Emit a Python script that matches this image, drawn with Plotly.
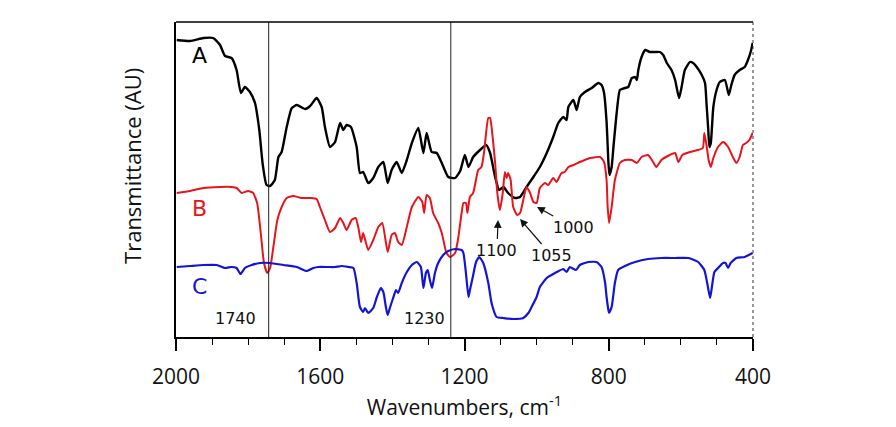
import plotly.graph_objects as go

# ---- data (wavenumber in cm-1, transmittance in arbitrary units) ----
a_wn = [1998,1961,1924,1897,1878,1864,1846,1832,1820,1809,1795,1781,1769,1760,1749,1739,1726,1716,1707,1693,
        1679,1665,1642,1628,1610,1596,1587,1573,1559,1545,1536,1527,1515,1499,1490,1481,1467,1453,1439,1425,
        1413,1402,1388,1374,1360,1346,1328,1314,1305,1291,1277,1263,1245,1226,1212,1199,1189,1176,1157,1140,
        1129,1115,1104,1092,1079,1060,1046,1028,1009,991,972,954,940,926,917,912,898,889,880,866,847,829,820,
        813,806,801,798,792,787,778,769,755,746,736,727,722,718,709,699,686,672,658,649,639,626,616,605,598,
        589,575,566,556,542,533,529,524,521,517,510,501,492,478,467,460,451,437,423,414,405,401]
a_val = [297,296,299,299,292,281,279,267,244,250,245,234,207,174,152,151,157,180,185,210,
         229,232,228,231,239,230,210,190,195,214,207,212,210,190,164,165,154,159,170,175,
         154,167,175,164,177,194,209,184,204,185,184,174,160,159,166,182,170,180,187,192,
         184,160,147,150,144,139,140,150,160,170,184,200,214,220,217,230,237,227,240,245,249,254,252,
         244,215,175,162,170,190,224,247,249,250,259,260,257,267,280,287,285,285,285,282,274,267,257,239,250,
         267,275,274,270,262,254,234,207,190,194,230,247,255,257,242,252,262,267,270,277,287,294]

b_wn = [1998,1961,1924,1878,1846,1832,1818,1800,1786,1775,1765,1756,1747,1739,1730,1719,1707,1693,1675,1652,
        1628,1610,1601,1587,1573,1559,1545,1536,1527,1513,1502,1494,1487,1481,1467,1453,1439,1428,1413,1402,
        1393,1384,1374,1360,1346,1328,1317,1312,1305,1296,1287,1273,1263,1250,1240,1226,1217,1208,1203,1196,
        1192,1185,1176,1162,1153,1146,1134,1129,1122,1115,1109,1102,1094,1088,1083,1079,1072,1065,1054,1046,
        1037,1028,1018,1009,1000,991,977,968,954,945,931,922,912,898,880,852,824,813,806,803,799,792,783,769,
        755,736,722,709,691,677,668,654,631,616,607,596,575,552,539,535,529,523,517,510,497,483,469,456,446,
        437,428,419,410,401]
b_val = [144,146,149,150,150,149,144,146,144,134,104,74,64,69,90,117,130,139,141,139,
         139,138,130,117,105,109,119,114,107,117,119,109,95,104,87,97,110,114,85,102,
         104,95,92,110,130,140,135,124,142,139,124,114,104,84,80,84,100,124,134,134,
         124,140,144,167,170,184,219,219,200,174,144,127,144,165,159,164,157,130,122,124,
         137,150,144,135,134,149,154,152,159,155,164,165,170,172,175,179,180,175,157,130,114,130,157,174,
         177,177,174,180,182,175,170,177,182,184,175,182,185,187,189,204,192,177,170,179,190,195,190,180,174,
         180,192,194,197,204]

c_wn = [1998,1961,1924,1887,1864,1846,1832,1821,1809,1790,1767,1739,1702,1665,1638,1619,1605,1578,1559,1541,
        1522,1508,1499,1490,1481,1476,1467,1453,1443,1432,1425,1418,1413,1407,1397,1390,1384,1374,1360,1346,
        1332,1321,1314,1307,1302,1296,1290,1282,1273,1259,1245,1226,1208,1203,1196,1189,1185,1177,1168,1159,
        1148,1134,1125,1111,1092,1065,1037,1023,1014,1000,991,972,949,926,917,908,891,880,857,834,820,810,806,
        801,799,792,783,774,755,727,691,654,616,579,552,535,525,519,514,507,497,483,476,469,462,446,423,401]
c_val = [70,71,72,72,69,70,69,63,69,72,74,74,72,70,66,69,70,70,70,71,
         70,69,54,30,25,29,24,29,40,49,45,30,22,29,40,47,44,54,65,72,
         75,70,49,64,67,57,49,64,74,82,86,88,87,84,64,40,47,60,75,80,
         74,54,34,20,19,18,19,24,30,40,50,59,64,68,65,70,67,72,75,75,70,54,40,
         27,24,30,54,67,71,75,78,79,79,79,75,67,50,39,50,65,69,74,74,69,74,79,80,84]

x_ticks = [2000, 1600, 1200, 800, 400]
marker_wn = [1743, 1238]
marker_labels = ["1740", "1230"]
peak_labels = ["1100", "1055", "1000"]
peak_heads = [(1107, 117), (1046, 118), (999, 130)]
peak_text_pos = [(1110, 87), (960, 82), (899, 110)]

BLACK = "#000000"
RED = "#e8141c"
BLUE = "#1414d8"

fig = go.Figure()
for wn, val, col, w in [(a_wn, a_val, BLACK, 2.4), (b_wn, b_val, RED, 2.0), (c_wn, c_val, BLUE, 2.2)]:
    fig.add_trace(go.Scatter(x=wn, y=val, mode="lines",
                             line=dict(color=col, width=w, shape="spline", smoothing=0.5),
                             showlegend=False, hoverinfo="skip"))

for v in marker_wn:
    fig.add_shape(type="line", x0=v, x1=v, y0=0, y1=1, xref="x", yref="paper",
                  line=dict(color="#222222", width=1))

# top border and right border (dotted in the original)
fig.add_shape(type="line", x0=0, x1=1, y0=1, y1=1, xref="paper", yref="paper",
              line=dict(color="black", width=1.5))
fig.add_shape(type="line", x0=1, x1=1, y0=0, y1=1, xref="paper", yref="paper",
              line=dict(color="#333333", width=1, dash="dot"))

# series letters
for txt, y, col in [("A", 282, BLACK), ("B", 129, RED), ("C", 51, BLUE)]:
    fig.add_annotation(x=1934, y=y, text=txt, showarrow=False,
                       font=dict(family="DejaVu Sans", size=22, color=col))

# marker labels
for v, txt in zip([1834, 1310], marker_labels):
    fig.add_annotation(x=v, y=19, text=txt, showarrow=False,
                       font=dict(family="DejaVu Sans", size=16, color="#111111"))

# peak labels with arrows
for txt, (hx, hy), (tx, ty) in zip(peak_labels, peak_heads, peak_text_pos):
    fig.add_annotation(x=hx, y=hy, ax=tx, ay=ty, axref="x", ayref="y", xref="x", yref="y",
                       text=txt, showarrow=True, arrowhead=2, arrowsize=1.3, arrowwidth=1.2,
                       arrowcolor="#111111", font=dict(family="DejaVu Sans", size=16, color="#111111"))

# y-axis title (placed above centre as in the original)
fig.add_annotation(xref="paper", yref="paper", x=0, y=0.543, xshift=-44, textangle=-90,
                   xanchor="center", yanchor="middle",
                   text="Transmittance (AU)", showarrow=False,
                   font=dict(family="Open Sans", size=22, color="#111111"))

fig.update_xaxes(range=[2000, 400], tickvals=x_ticks, ticktext=[str(t) for t in x_ticks],
                 ticks="outside", ticklen=12, tickwidth=1.5, tickcolor="black",
                 minor=dict(dtick=100, ticks="outside", ticklen=6, tickwidth=1, tickcolor="black"),
                 showline=True, linecolor="black", linewidth=1.5, mirror=False,
                 showgrid=False, zeroline=False, ticklabelstandoff=8, automargin=False,
                 tickfont=dict(family="Open Sans", size=21, color="#111111"),
                 title=dict(text="Wavenumbers, cm<sup>-1</sup>", standoff=9,
                            font=dict(family="Open Sans", size=21, color="#111111")))
fig.update_yaxes(range=[0, 315], showticklabels=False, ticks="", showline=True,
                 linecolor="black", linewidth=1.5, showgrid=False, zeroline=False,
                 automargin=False)

fig.update_layout(width=896, height=427, margin=dict(l=168, r=151, t=14, b=98),
                  plot_bgcolor="white", paper_bgcolor="white")
fig.write_html("out.html")
